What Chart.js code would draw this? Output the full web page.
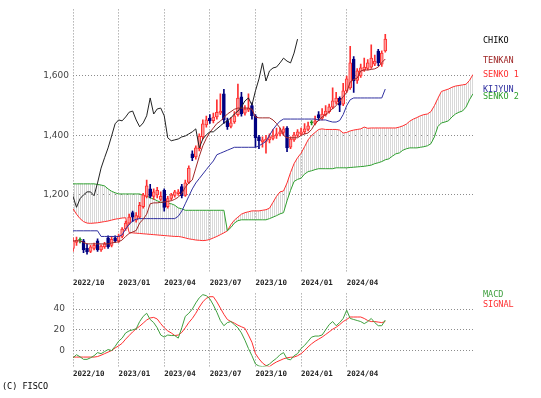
<!DOCTYPE html>
<html lang="ja">
<head>
<meta charset="UTF-8">
<title>Ichimoku weekly</title>
<script src="https://cdn.jsdelivr.net/npm/chart.js@4.4.1/dist/chart.umd.min.js"></script>
<style>
  body { margin: 0; background: #fff; }
  #wrap { position: relative; width: 541px; height: 398px; overflow: hidden; }
  canvas { position: absolute; left: 0; }
  #main { top: 0; }
  #sub { top: 280px; }
  .lbl { position: absolute; left: 483px; font-family: 'DejaVu Sans Mono', monospace; font-size: 8.5px; line-height: 9px; white-space: pre; }
</style>
</head>
<body>
<div id="wrap">
  <canvas id="main" width="541" height="290"></canvas>
  <canvas id="sub" width="541" height="100"></canvas>
  <div class="lbl" style="top:35.5px;color:#000">CHIKO</div>
  <div class="lbl" style="top:55.5px;color:#a02828">TENKAN</div>
  <div class="lbl" style="top:69.5px;color:#ff3030">SENKO 1</div>
  <div class="lbl" style="top:84.5px;color:#3030a0">KIJYUN</div>
  <div class="lbl" style="top:91.5px;color:#30a030">SENKO 2</div>
  <div class="lbl" style="top:289.5px;color:#40a040">MACD</div>
  <div class="lbl" style="top:299.5px;color:#ff3030">SIGNAL</div>
  <div class="lbl" style="left:2px;top:381.5px;color:#000">(C) FISCO</div>
</div>

<script>
// weekly bars, week 0 = first week of 2022/10
const quarterLabels = ['2022/10', '2023/01', '2023/04', '2023/07', '2023/10', '2024/01', '2024/04'];
const quarterWeeks = [0, 13, 26, 39, 52, 65, 78];
const priceTicks = [1200, 1400, 1600];
const macdTicks = [0, 20, 40];

const opens = [1020,1040,1047,1045,1020,1010,1020,1045,1015,1025,
  1055,1030,1055,1045,1060,1085,1105,1140,1115,1125,
  1160,1195,1220,1195,1200,1185,1215,1160,1188,1198,
  1204,1228,1198,1242,1338,1328,1355,1395,1435,1458,
  1450,1462,1475,1540,1450,1430,1445,1470,1530,1475,
  1485,1500,1465,1395,1378,1380,1385,1390,1398,1405,
  1410,1425,1360,1385,1400,1405,1412,1420,1442,1440,
  1470,1458,1470,1480,1495,1512,1525,1505,1550,1560,
  1657,1585,1600,1620,1625,1630,1640,1684,1640,1684];
const highs = [1055,1058,1055,1050,1035,1030,1038,1052,1032,1040,
  1062,1060,1062,1068,1090,1112,1135,1145,1140,1175,
  1205,1250,1235,1220,1225,1210,1220,1195,1205,1215,
  1218,1235,1250,1298,1348,1365,1405,1452,1465,1470,
  1475,1520,1540,1555,1458,1460,1480,1573,1545,1500,
  1540,1510,1470,1400,1395,1400,1405,1420,1425,1425,
  1430,1430,1395,1410,1420,1425,1440,1445,1450,1465,
  1480,1490,1500,1505,1560,1545,1530,1575,1600,1700,
  1665,1625,1640,1660,1655,1705,1670,1690,1685,1740];
const lows = [1010,1030,1038,1005,1000,1005,1015,1010,1010,1020,
  1020,1025,1040,1040,1055,1080,1100,1110,1108,1120,
  1155,1190,1190,1185,1190,1180,1145,1155,1182,1192,
  1198,1190,1195,1238,1315,1320,1348,1388,1428,1440,
  1442,1455,1470,1440,1420,1425,1440,1465,1465,1468,
  1480,1455,1360,1355,1360,1340,1375,1385,1390,1398,
  1400,1345,1355,1380,1395,1400,1405,1415,1435,1435,
  1450,1452,1465,1475,1490,1505,1480,1500,1545,1555,
  1545,1575,1595,1615,1620,1625,1635,1635,1632,1680];
const closes = [1045,1048,1047,1015,1008,1025,1030,1015,1028,1035,
  1025,1050,1045,1060,1085,1105,1125,1125,1130,1165,
  1200,1230,1195,1210,1215,1195,1158,1187,1200,1210,
  1210,1197,1240,1290,1325,1358,1398,1439,1452,1449,
  1462,1478,1482,1452,1429,1442,1466,1526,1472,1489,
  1492,1466,1392,1382,1385,1388,1395,1398,1405,1412,
  1422,1358,1388,1402,1412,1412,1422,1432,1442,1449,
  1459,1472,1482,1496,1516,1526,1502,1550,1590,1644,
  1583,1617,1627,1630,1644,1660,1650,1644,1677,1724];

const tenkan = [1045,1045,1045,1040,1035,1035,1035,1035,1035,1035,
  1035,1038,1040,1042,1048,1060,1070,1075,1080,1105,
  1118,1135,1170,1173,1173,1175,1176,1178,1180,1185,
  1192,1205,1225,1240,1250,1290,1330,1365,1390,1410,
  1425,1440,1448,1460,1472,1480,1488,1492,1492,1492,
  1492,1488,1462,1459,1459,1459,1459,1452,1440,1425,
  1400,1392,1392,1392,1392,1400,1405,1408,1420,1440,
  1450,1462,1470,1480,1490,1500,1515,1530,1545,1580,
  1588,1593,1617,1620,1620,1622,1624,1630,1645,1657];
const kijun = [1079,1079,1079,1079,1079,1079,1079,1079,1060,1060,
  1060,1060,1060,1060,1065,1085,1100,1112,1118,1120,
  1120,1120,1120,1120,1120,1120,1120,1120,1120,1120,
  1128,1145,1170,1195,1220,1240,1255,1270,1285,1300,
  1314,1335,1340,1345,1350,1355,1360,1360,1360,1360,
  1360,1360,1360,1365,1372,1380,1400,1420,1435,1448,
  1455,1455,1455,1455,1455,1455,1455,1455,1455,1455,
  1452,1452,1452,1448,1445,1445,1450,1470,1500,1520,
  1526,1526,1526,1526,1526,1526,1526,1526,1526,1556];
// lagging span, plotted 25 weeks back
const chiko = [1195,1158,1187,1200,1210,1210,1197,1240,1290,1325,
  1358,1398,1439,1452,1449,1462,1478,1482,1452,1429,
  1442,1466,1526,1472,1489,1492,1466,1392,1382,1385,
  1388,1395,1398,1405,1412,1422,1358,1388,1402,1412,
  1412,1422,1432,1442,1449,1459,1472,1482,1496,1516,
  1526,1502,1550,1590,1644,1583,1617,1627,1630,1644,
  1660,1650,1644,1677,1724];
// leading spans, run 25 weeks past the last bar
const senko1 = [1153,1135,1120,1110,1105,1104,1105,1106,1108,1110,
  1112,1115,1118,1120,1122,1123,1073,1072,1071,1070,
  1069,1068,1067,1066,1065,1064,1063,1062,1061,1060,
  1060,1058,1055,1052,1050,1048,1047,1046,1047,1050,
  1055,1060,1066,1072,1079,1100,1115,1125,1135,1140,
  1143,1146,1146,1146,1148,1150,1155,1175,1195,1210,
  1213,1240,1275,1305,1325,1340,1362,1385,1400,1410,
  1420,1422,1420,1420,1420,1420,1418,1408,1410,1415,
  1418,1420,1422,1428,1424,1425,1425,1425,1425,1425,
  1425,1425,1425,1428,1432,1438,1448,1455,1460,1466,
  1470,1472,1480,1500,1525,1548,1552,1556,1562,1566,
  1568,1570,1572,1585,1605];
const senko2 = [1237,1237,1237,1237,1237,1237,1237,1235,1233,1230,
  1220,1212,1207,1203,1203,1203,1203,1203,1203,1203,
  1198,1196,1190,1186,1180,1175,1173,1171,1170,1165,
  1156,1153,1148,1148,1148,1148,1148,1148,1148,1148,
  1148,1148,1148,1148,1079,1090,1105,1113,1116,1116,
  1116,1116,1116,1116,1116,1116,1120,1125,1130,1136,
  1140,1180,1215,1245,1252,1256,1270,1278,1281,1285,
  1288,1288,1288,1288,1288,1291,1291,1291,1291,1292,
  1293,1294,1295,1296,1298,1300,1305,1308,1312,1318,
  1321,1330,1338,1341,1350,1355,1358,1358,1358,1360,
  1362,1365,1372,1395,1430,1442,1445,1449,1462,1472,
  1478,1482,1495,1520,1540];

const macd = [-7,-4,-6,-8.5,-8.5,-7,-5,-2,-3,-1,
  1,0,4,9,12,17,19,20,21,28,
  33,36,30,27,22,15,13,15,14.5,14.5,
  12,22,33,36,40,46,51,54,53,50,
  44,37,29,24,27,28,25,22,17,10,
  2,-5,-13,-15,-15.5,-15,-13,-10,-7.5,-4,
  -2,-8,-9,-5,-3,2,5,9,13,14,
  14,15,20,25,28,24,27,31,39,31,
  30,29,28,26,28,31,27,24,24,29.5];
const signal = [-6.3,-6.3,-6.3,-6.3,-6.3,-6.3,-6.3,-5.8,-4.5,-3,
  -1.5,0,2.5,4.5,7,11,14.5,18,21,23.5,
  26.5,29.5,31.5,32,30.5,26,22,19,17,14.5,
  15,17.5,22,27,31,36,42,47,50.5,52,
  52,47,41,35,30,28,26.5,24.5,23,21.5,
  15,8,-3,-8,-12,-14.5,-15.5,-13,-11,-9.5,
  -8,-7,-6.5,-6.3,-5,-3,0,3.5,6.5,9,
  11,13,15.5,18,20.6,22.5,25,28,30,32.4,
  32.4,32.4,32.4,31,29,28,28,27.5,27,28];

const RED = '#ff3030', NAVY = '#000080', DOJI = '#209020';
const GRID = '#8c8c8c';

const pts = arr => arr.map((v, i) => ({ x: i, y: v }));
const candleColor = i => closes[i] > opens[i] ? RED : closes[i] < opens[i] ? NAVY : DOJI;
const bodyFill = i => closes[i] > opens[i] ? '#ff9c9c' : candleColor(i);

function quarterAxis(height, pad) {
    return {
        type: 'linear', min: 0, max: 114, offset: false,
        afterBuildTicks: s => { s.ticks = quarterWeeks.map(v => ({ value: v })); },
        afterFit: s => { s.height = height; },
        grid: { color: GRID, drawTicks: false, offset: false },
        border: { display: false, dash: [1, 2] },
        ticks: {
            autoSkip: false, maxRotation: 0, align: 'start', padding: pad, color: '#222',
            font: { family: 'DejaVu Sans Mono', size: 7.5, weight: 'bold' },
            callback: v => quarterLabels[quarterWeeks.indexOf(v)]
        }
    };
}

function valueAxis(min, max, ticks, pad) {
    return {
        min: min, max: max,
        afterBuildTicks: s => { s.ticks = ticks.map(v => ({ value: v })); },
        afterFit: s => { s.width = 73; },
        grid: { color: GRID, drawTicks: false },
        border: { display: false, dash: [1, 2] },
        ticks: {
            padding: pad, color: '#444',
            font: { family: 'DejaVu Sans', size: 9 },
            callback: v => v.toLocaleString('en-US')
        }
    };
}

const mainCtx = document.getElementById('main').getContext('2d');

// thin vertical hatch for the cloud
const hatch = document.createElement('canvas');
hatch.width = 2; hatch.height = 1;
const hc = hatch.getContext('2d');
hc.fillStyle = '#d8d8d8';
hc.fillRect(0, 0, 1, 1);
const cloud = mainCtx.createPattern(hatch, 'repeat');

const lineDs = (label, data, color, order, extra) => Object.assign({
    type: 'line', label: label, data: data, borderColor: color, borderWidth: 1,
    pointRadius: 0, tension: 0, fill: false, order: order
}, extra || {});

new Chart(mainCtx, {
    type: 'line',
    data: {
        datasets: [
            lineDs('SENKO 1', pts(senko1), RED, 10, { fill: { target: '+1', above: cloud, below: cloud } }),
            lineDs('SENKO 2', pts(senko2), '#30a030', 9),
            {
                type: 'bar', label: 'wick', order: 6, grouped: false, barThickness: 1,
                data: highs.map((h, i) => ({ x: i, y: [lows[i], h] })),
                backgroundColor: highs.map((h, i) => candleColor(i))
            },
            {
                type: 'bar', label: 'body', order: 5, grouped: false, barThickness: 3, minBarLength: 1,
                data: opens.map((o, i) => ({ x: i, y: [o, closes[i]] })),
                backgroundColor: opens.map((o, i) => bodyFill(i)),
                borderColor: opens.map((o, i) => candleColor(i)),
                borderWidth: 1, borderSkipped: false
            },
            lineDs('KIJYUN', pts(kijun), '#3030a0', 3),
            lineDs('TENKAN', pts(tenkan), '#a02828', 2),
            lineDs('CHIKO', pts(chiko), '#222', 1)
        ]
    },
    options: {
        responsive: false, animation: false, devicePixelRatio: 1,
        layout: { padding: { top: 8, right: 68, left: 0, bottom: 0 } },
        plugins: { legend: { display: false }, tooltip: { enabled: false } },
        scales: {
            x: quarterAxis(17, 6),
            y: valueAxis(937, 1824, priceTicks, 4)
        }
    }
});

new Chart(document.getElementById('sub'), {
    type: 'line',
    data: {
        datasets: [
            lineDs('SIGNAL', pts(signal), RED, 2),
            lineDs('MACD', pts(macd), '#40a040', 1)
        ]
    },
    options: {
        responsive: false, animation: false, devicePixelRatio: 1,
        layout: { padding: { top: 8, right: 68, left: 0, bottom: 0 } },
        plugins: { legend: { display: false }, tooltip: { enabled: false } },
        scales: {
            x: quarterAxis(13, 3),
            y: valueAxis(-15.5, 55.2, macdTicks, 8)
        }
    }
});
</script>
</body>
</html>
